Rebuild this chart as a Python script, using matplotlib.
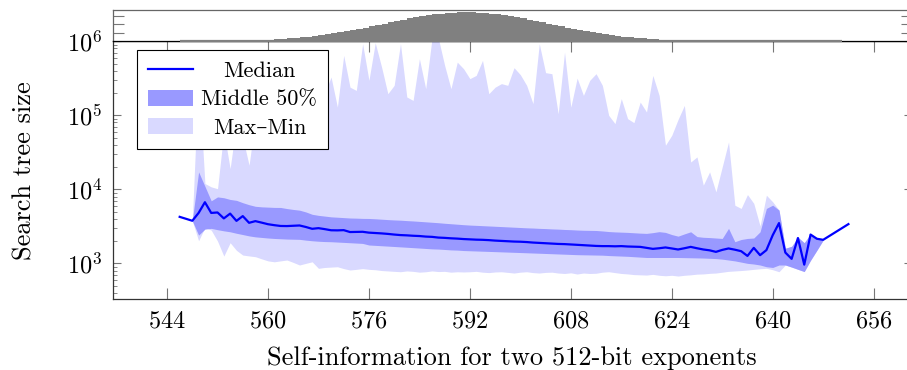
import matplotlib
matplotlib.use("Agg")
import matplotlib.pyplot as plt
from matplotlib.lines import Line2D
from matplotlib.patches import Patch
import numpy as np

plt.rcParams['font.family'] = ['cmr10', 'DejaVu Serif']
plt.rcParams['mathtext.fontset'] = 'cm'
plt.rcParams['axes.formatter.use_mathtext'] = True
plt.rcParams['axes.unicode_minus'] = False

# ---------------- data ----------------
median_x = list(range(546, 649)) + [652]
median = [4250, 4000, 3760, 4800, 6700, 4800, 4870, 4050, 4700, 3750,
          4350, 3530, 3720, 3550, 3380, 3280, 3200, 3190, 3220, 3250,
          3100, 2930, 2990, 2900, 2800, 2790, 2810, 2650, 2660, 2670,
          2600, 2570, 2540, 2500, 2450, 2410, 2390, 2360, 2340, 2300,
          2280, 2230, 2210, 2180, 2160, 2130, 2110, 2090, 2080, 2060,
          2030, 2010, 1990, 1970, 1960, 1940, 1910, 1890, 1870, 1850,
          1830, 1820, 1800, 1780, 1760, 1740, 1720, 1710, 1710, 1700,
          1710, 1690, 1680, 1670, 1620, 1570, 1600, 1640, 1590, 1540,
          1600, 1670, 1600, 1540, 1500, 1430, 1520, 1590, 1530, 1460,
          1260, 1620, 1290, 1510, 2400, 3500, 1400, 1150, 2200, 960,
          2450, 2150, 2080, 3390]

band_x = list(range(548, 649))
q3 = [3760, 17200, 11000, 7000, 7900, 7700, 7300, 7100, 6600, 6200,
      5900, 5800, 5750, 5700, 5690, 5500, 5350, 5230, 4950, 4600,
      4450, 4350, 4250, 4200, 4150, 4100, 4080, 4050, 4040, 4000,
      3950, 3900, 3860, 3830, 3780, 3740, 3690, 3640, 3590, 3540,
      3480, 3430, 3380, 3330, 3290, 3260, 3230, 3200, 3170, 3140,
      3110, 3080, 3050, 3020, 3000, 2970, 2950, 2920, 2900, 2870,
      2850, 2820, 2800, 2790, 2780, 2740, 2690, 2660, 2640, 2620,
      2590, 2560, 2540, 2600, 2680, 2620, 2450, 2330, 2500, 2670,
      2300, 2250, 2230, 2200, 2170, 2970, 1960, 2100, 2170, 2200,
      2670, 5520, 6110, 5240, 1600, 1700, 2250, 1900, 2500, 2200,
      2080]
q1 = [3760, 2410, 2900, 2970, 2850, 2750, 2670, 2550, 2450, 2350,
      2280, 2240, 2200, 2170, 2150, 2130, 2120, 2110, 2060, 2020,
      1990, 1970, 1960, 1940, 1920, 1900, 1880, 1860, 1770, 1750,
      1730, 1710, 1690, 1670, 1650, 1630, 1610, 1590, 1570, 1560,
      1540, 1520, 1510, 1490, 1480, 1470, 1460, 1450, 1440, 1430,
      1420, 1410, 1400, 1390, 1380, 1370, 1360, 1350, 1340, 1330,
      1320, 1310, 1305, 1300, 1295, 1290, 1275, 1265, 1255, 1245,
      1230, 1215, 1200, 1200, 1200, 1200, 1200, 1200, 1195, 1190,
      1185, 1180, 1170, 1160, 1140, 1110, 1080, 1040, 1000, 980,
      950, 900, 880, 950, 950, 890, 830, 775, 1100, 1500,
      2060]
low = [3760, 2020, 3050, 2810, 2000, 1255, 1900, 1500, 1295, 1260,
       1230, 1150, 1080, 1050, 1080, 1110, 1030, 950, 1000, 1050,
       857, 880, 890, 900, 850, 813, 830, 850, 830, 820,
       800, 790, 780, 771, 790, 780, 760, 770, 790, 775,
       780, 760, 770, 765, 770, 780, 760, 750, 765, 770,
       755, 740, 760, 770, 750, 740, 755, 760, 740, 730,
       745, 718, 740, 730, 735, 760, 771, 750, 730, 720,
       705, 700, 695, 710, 690, 680, 690, 674, 690, 700,
       715, 720, 733, 740, 760, 780, 790, 800, 813, 830,
       845, 857, 820, 771, 950, 890, 830, 775, 1100, 1500,
       2060]
high = [3760, 350000, 12000, 10800, 10200, 60000, 19100, 80000, 50000, 21200,
        90000, 150000, 200000, 120000, 300000, 180000, 250000, 400000, 150000, 350000,
        200000, 200000, 329000, 129000, 646000, 240000, 217000, 927000, 297000, 955000,
        450000, 196000, 254000, 927000, 177000, 159000, 582000, 229000, 1100000, 1100000,
        472000, 229000, 523000, 426000, 313000, 346000, 552000, 196000, 240000, 268000,
        254000, 440000, 354000, 254000, 144000, 927000, 377000, 365000, 105000, 714000,
        129000, 318000, 186000, 297000, 365000, 254000, 100000, 77300, 168000, 90200,
        79600, 151000, 111000, 346000, 186000, 39400, 53700, 88000, 136000, 23400,
        27400, 11400, 17200, 9250, 20100, 43600, 6100, 5520, 8500, 6460,
        3200, 8320, 6780, 5240, 1600, 1700, 2250, 1900, 2500, 2200,
        2080]

hist_edges = list(range(546, 652))
hist_counts = [0.25, 0.32, 0.42, 0.54, 0.7, 0.9, 1.1, 1.4, 1.7, 2.2,
               2.7, 3.3, 4.0, 4.8, 5.8, 7.0, 8.3, 9.8, 11.6, 13.5,
               15.7, 18.2, 20.9, 23.9, 27.1, 30.6, 34.4, 38.3, 42.5, 46.9,
               51.4, 56.0, 60.7, 65.3, 69.9, 74.4, 78.7, 82.8, 86.5, 89.9,
               92.9, 95.4, 97.4, 98.8, 99.7, 100.0, 99.7, 98.8, 97.4, 95.4,
               92.9, 89.9, 86.5, 82.8, 78.7, 74.4, 69.9, 65.3, 60.7, 56.0,
               51.4, 46.9, 42.5, 38.3, 34.4, 30.6, 27.1, 23.9, 20.9, 18.2,
               15.7, 13.5, 11.6, 9.8, 8.3, 7.0, 5.8, 4.8, 4.0, 3.3,
               2.7, 2.2, 1.7, 1.4, 1.1, 0.9, 0.7, 0.54, 0.42, 0.32,
               0.25, 0.19, 0.14, 0.11, 0.08, 0.06, 0.05, 0.04, 0.03, 0.02,
               0.02, 0.01, 0.01, 0.01, 0.01]

x_ticks = [544, 560, 576, 592, 608, 624, 640, 656]
labels = ["Median", "Middle 50%", "Max\u2013Min"]

# ---------------- figure ----------------
W, H = 907, 370
fig = plt.figure(figsize=(W / 100, H / 100), dpi=100)

L, R = 112.8, 911.5
T_main, B_main = 41.3, 299.0
T_top = 10.0
ax = fig.add_axes([L / W, 1 - B_main / H, (R - L) / W, (B_main - T_main) / H])
axt = fig.add_axes([L / W, 1 - T_main / H, (R - L) / W, (T_main - T_top) / H], sharex=ax)

light = '#d9d9ff'
mid = '#9999ff'
ax.fill_between(band_x, low, high, color=light, lw=0, zorder=1)
ax.fill_between(band_x, q1, q3, color=mid, lw=0, zorder=2)
ax.plot(median_x, median, color='#0000ff', lw=1.6, zorder=3)

ax.set_yscale('log')
ax.set_ylim(330, 1e6)
ax.set_xlim(535.4, 662.0)
ax.set_xticks(x_ticks)
ax.set_yticks([1e3, 1e4, 1e5, 1e6])

spine_c = '#333333'
tick_c = '#777777'
for s in ax.spines.values():
    s.set_color(spine_c)
    s.set_linewidth(0.9)
ax.spines['top'].set_color('black')

ax.tick_params(axis='x', which='major', direction='in', length=8, width=0.8,
               color=tick_c, top=True, labelsize=17.5, pad=8)
ax.tick_params(axis='x', which='minor', bottom=False, top=False)
ax.tick_params(axis='y', which='major', direction='in', length=5.5, width=0.8,
               color=tick_c, right=True, labelsize=17.5, pad=7.5)
ax.tick_params(axis='y', which='minor', direction='in', length=3, width=0.6,
               color=tick_c, right=True)

ax.set_xlabel("Self-information for two 512-bit exponents", fontsize=19, labelpad=10)
ax.set_ylabel("Search tree size", fontsize=19, labelpad=22)

handles = [Line2D([], [], color='#0000ff', lw=1.6),
           Patch(facecolor=mid, edgecolor='none'),
           Patch(facecolor=light, edgecolor='none')]
leg = ax.legend(handles, labels, loc='upper left', bbox_to_anchor=(0.0303, 0.966),
                borderaxespad=0, fontsize=16, frameon=True, fancybox=False,
                framealpha=1, edgecolor='black', handlelength=2.0,
                handleheight=0.72, handletextpad=0.4, labelspacing=0.4,
                borderpad=0.5)
leg.get_frame().set_linewidth(0.8)
leg.set_zorder(5)

# top histogram strip
axt.stairs(hist_counts, hist_edges, fill=True, color='#808080', lw=0, zorder=3)
axt.hlines(0, hist_edges[0], hist_edges[-1], color='#808080', lw=1.6, zorder=3,
           clip_on=False)
axt.set_ylim(0, 108)
axt.set_yticks([28, 58, 87])
axt.tick_params(axis='y', which='both', direction='in', length=8, width=0.8,
                color=tick_c, right=True, labelleft=False)
axt.tick_params(axis='x', which='both', bottom=False, top=False,
                labelbottom=False)
axt.minorticks_off()
for s in axt.spines.values():
    s.set_color('#666666')
    s.set_linewidth(0.9)
axt.spines['bottom'].set_color('black')

# center legend texts within the column
fig.canvas.draw()
texts = leg.get_texts()
widths = [t.get_window_extent().width for t in texts]
maxw = max(widths)
for t, w in zip(texts, widths):
    t.set_position(((maxw - w) / 2.0, 0))

fig.savefig("out.png", dpi=100)
